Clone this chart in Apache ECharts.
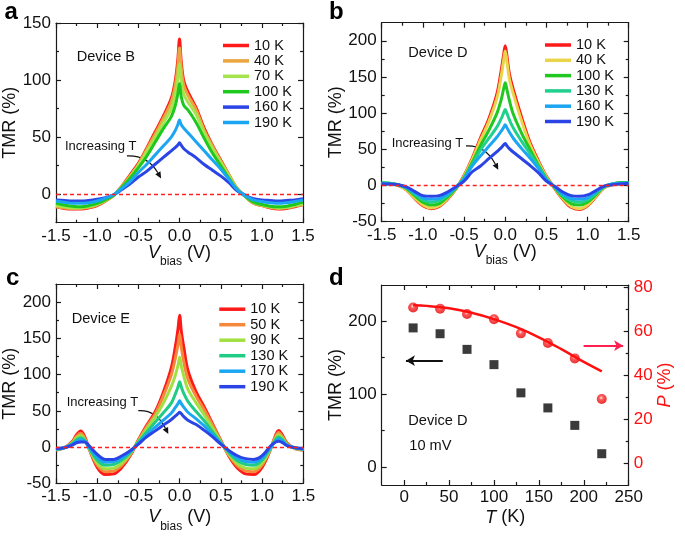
<!DOCTYPE html>
<html><head><meta charset="utf-8">
<script src="https://cdn.jsdelivr.net/npm/echarts@6/dist/echarts.min.js"></script>
<style>html,body{margin:0;padding:0;background:#fff}#c{width:685px;height:537px}</style>
</head><body><div id="c"></div>
<script>
// ---------- DATA ----------
const X_AB = [-1.5,-1.4,-1.3,-1.2,-1.1,-1.0,-0.9,-0.8,-0.7,-0.6,-0.5,-0.4,-0.3,-0.2,-0.1,-0.05,-0.02,0,0.02,0.05,0.1,0.2,0.3,0.4,0.5,0.6,0.7,0.8,0.9,1.0,1.1,1.2,1.3,1.4,1.5];
const X_C = [-1.5,-1.4,-1.3,-1.25,-1.2,-1.15,-1.1,-1.0,-0.9,-0.8,-0.7,-0.6,-0.5,-0.4,-0.3,-0.2,-0.1,-0.05,-0.02,0,0.02,0.05,0.1,0.2,0.3,0.4,0.5,0.6,0.7,0.8,0.9,1.0,1.1,1.15,1.2,1.25,1.3,1.4,1.5];

// Panel a: Device B
const A_NAMES = ['10 K','40 K','70 K','100 K','160 K','190 K'];
const A_10  = [-11,-12.5,-13,-13,-12,-10,-6,-1,7,17,27,40,54,68,84,100,118,136,117,100,90,76,58,43,30,17,5,-2,-8,-10,-12,-13,-12.5,-11,-9];
const A_40  = [-11,-12,-12.5,-12.5,-11.5,-9.5,-6,-1,7,16,26,39,52,66,81,96,112,128,111,96,87,74,56,42,29,17,5,-2,-8,-10,-11.5,-12.5,-12,-10.5,-9];
const A_70  = [-10,-11,-12,-12,-11,-9,-5.5,-1,6,15,25,37,49,62,75,88,102,114,100,88,81,70,54,40,28,16,5,-2,-7.5,-9.5,-11,-12,-11.5,-10,-8.5];
const A_100 = [-8,-9.5,-10.5,-11,-10,-8,-5,-1,6,14,23,33,45,57,68,78,88,97,86,78,74,63,49,36,25,14,4,-2,-7,-9,-10.5,-11,-10.5,-9,-7];
const A_160 = [-5,-5.5,-6,-6,-5.5,-4.5,-3,-0.5,4,9,15,20,26,32,38,41,43,45,43,40,37,32,26,21,16,10,3,-1,-4,-5,-5.5,-6,-5.5,-5,-4];
const A_190 = [-6,-7,-8,-8,-7.5,-6,-3.5,-0.5,5,11,19,26,34,42,50,56,61,65,61,58,54,46,38,30,22,13,4,-1.5,-5,-6.5,-7.5,-8,-7.5,-6.5,-5];

// Panel b: Device D
const B_NAMES = ['10 K','40 K','100 K','130 K','160 K','190 K'];
const B_10  = [3,2,0,-6,-18,-28,-32,-29,-19,-5,14,38,66,92,127,158,180,193,180,155,132,94,60,35,13,-4,-19,-30,-33,-28,-16,-3,1,3,4];
const B_40  = [3,2,0,-6,-17,-27,-31,-28,-18,-5,13,36,63,88,121,150,172,186,172,148,126,89,57,33,12,-4,-18,-29,-32,-27,-15,-3,1,3,4];
const B_100 = [4,3,1,-4,-14,-23,-27,-25,-16,-4,11,32,55,76,100,118,133,142,133,118,98,72,50,29,10,-3,-16,-25,-27,-23,-13,-2,2,4,4];
const B_130 = [4,3,1,-3,-12,-20,-23,-21,-14,-3,10,29,49,65,81,92,100,105,100,91,79,61,44,27,9,-2,-14,-21,-23,-20,-11,-2,2,3,4];
const B_160 = [3,2,1,-3,-10,-17,-19,-18,-12,-3,9,27,41,54,67,75,80,84,80,74,65,51,38,24,8,-2,-12,-18,-19,-17,-9,-1,2,3,3];
const B_190 = [2,2,1,-2,-8,-14,-15,-14,-9,-2,6,19,27,37,47,52,56,58,55,51,46,37,28,18,6,-1,-9,-14,-15,-13,-7,-1,1,2,3];

// Panel c: Device E
const C_NAMES = ['10 K','50 K','90 K','130 K','170 K','190 K'];
const C_10  = [-4,-1,8,17,22,14,-2,-28,-38,-37,-28,-12,10,30,48,75,110,140,163,182,160,138,106,76,55,32,9,-13,-29,-37,-38,-28,-4,12,23,16,6,-2,-4];
const C_50  = [-4,-1,7,15,19,12,-2,-25,-34,-33,-25,-11,9,28,45,70,100,124,142,156,138,118,94,70,51,30,8,-12,-26,-33,-34,-25,-3,11,20,14,5,-2,-4];
const C_90  = [-3,-1,6,13,16,10,-2,-22,-30,-29,-22,-9,8,25,41,60,84,100,113,124,112,98,80,61,44,26,7,-10,-23,-29,-30,-22,-3,9,17,12,4,-2,-3];
const C_130 = [-3,-1,5,10,13,9,-1,-18,-25,-24,-18,-8,7,21,34,47,61,74,83,90,83,74,63,49,36,21,6,-8,-19,-24,-25,-18,-2,8,14,10,3,-1,-3];
const C_170 = [-3,-1,4,8,10,8,0,-14,-21,-20,-15,-6,5,17,27,37,47,55,60,64,60,55,48,39,29,17,5,-6,-15,-20,-21,-15,-1,6,11,8,3,-1,-3];
const C_190 = [-2,-1,3,6,7,7,2,-10,-17,-17,-12,-5,4,14,22,30,38,43,46,48,46,42,37,31,23,14,4,-5,-12,-16,-17,-12,1,6,8,6,2,-1,-2];

// Panel d: Device D, 10 mV
const D_T   = [10,40,70,100,130,160,190,220];
const D_TMR = [191,183,161.5,140.5,101.7,81,57,18];
const D_P   = [70.8,70.2,67.8,65.4,59,54.6,47.6,29.1];
const FIT_T = [10,25,50,75,100,125,150,175,200,220];
const FIT_P = [71.8,71.5,70.4,68.4,65.5,61.8,57.2,51.8,46,41.7];

// Tick values
const V_MAJOR = [-1.5,-1,-0.5,0,0.5,1,1.5];
const V_MINOR = [-1.25,-0.75,-0.25,0.25,0.75,1.25];
const A_Y_MAJOR = [0,50,100,150];
const A_Y_MINOR = [25,75,125];
const BC_Y_MAJOR = [-50,0,50,100,150,200];
const BC_Y_MINOR = [-25,25,75,125,175];
const D_X_MAJOR = [0,50,100,150,200,250];
const D_X_MINOR = [25,75,125,175,225];
const D_L_MAJOR = [0,100,200];
const D_L_MINOR = [50,150];
const D_R_MAJOR = [0,20,40,60,80];
const D_R_MINOR = [10,30,50,70];

// ---------- CHART ----------
const FONT = '"Liberation Sans", Arial, sans-serif';
const AX = '#1a1a1a';
const TXT = '#111';
const chart = echarts.init(document.getElementById('c'));
const xAxis = [], yAxis = [];

function addAxis(list, g, pos, min, max, major, minor, label, nameOpt) {
  const common = {gridIndex: g, type: 'value', position: pos, min: min, max: max,
    splitLine: {show: false}, axisPointer: {show: false}, nameMoveOverlap: false};
  list.push(Object.assign({}, common, {
    axisLine: {show: true, onZero: false, lineStyle: {color: AX, width: 1.2}},
    axisTick: {show: true, inside: true, length: 5, customValues: major, lineStyle: {color: AX, width: 1.2}},
    axisLabel: label ? Object.assign({show: true, customValues: major, fontFamily: FONT, fontSize: 17, color: TXT, margin: 5}, label) : {show: false}
  }, nameOpt || {}));
  list.push(Object.assign({}, common, {
    axisLine: {show: false, onZero: false},
    axisTick: {show: true, inside: true, length: 3, customValues: minor, lineStyle: {color: AX, width: 1.2}},
    axisLabel: {show: false}
  }));
}
const fmt1 = v => v.toFixed(1);
function vName(gap) {
  return {
    name: '{i|V}{s|bias} (V)', nameLocation: 'middle', nameGap: gap,
    nameTextStyle: {fontFamily: FONT, fontSize: 18, color: TXT, lineHeight: 30,
      rich: {i: {fontFamily: FONT, fontSize: 18, fontStyle: 'italic', lineHeight: 30, color: TXT},
             s: {fontFamily: FONT, fontSize: 12, lineHeight: 12, verticalAlign: 'bottom', color: TXT}}}
  };
}
const tmrName = {name: 'TMR (%)', nameLocation: 'middle', nameRotate: 90, nameGap: 37,
  nameTextStyle: {fontFamily: FONT, fontSize: 18, color: TXT}};

const panels = [
  {y: [-25, 150], ymaj: A_Y_MAJOR, ymin: A_Y_MINOR, gap: 15},
  {y: [-50, 225], ymaj: BC_Y_MAJOR, ymin: BC_Y_MINOR, gap: 15},
  {y: [-50, 225], ymaj: BC_Y_MAJOR, ymin: BC_Y_MINOR, gap: 19}
];
panels.forEach((p, g) => {
  addAxis(xAxis, g, 'bottom', -1.5, 1.5, V_MAJOR, V_MINOR, {formatter: fmt1}, vName(p.gap));
  addAxis(xAxis, g, 'top', -1.5, 1.5, V_MAJOR, V_MINOR, null);
  addAxis(yAxis, g, 'left', p.y[0], p.y[1], p.ymaj, p.ymin, {}, tmrName);
  addAxis(yAxis, g, 'right', p.y[0], p.y[1], p.ymaj, p.ymin, null);
});
addAxis(xAxis, 3, 'bottom', -25, 250, D_X_MAJOR, D_X_MINOR, {margin: 4},
  {name: '{i|T} (K)', nameLocation: 'middle', nameGap: 23.5,
   nameTextStyle: {fontFamily: FONT, fontSize: 18, color: TXT, lineHeight: 18,
     rich: {i: {fontFamily: FONT, fontSize: 18, fontStyle: 'italic', color: TXT, lineHeight: 18}}}});
addAxis(xAxis, 3, 'top', -25, 250, D_X_MAJOR, D_X_MINOR, null);
addAxis(yAxis, 3, 'left', -25, 250, D_L_MAJOR, D_L_MINOR, {}, tmrName);
addAxis(yAxis, 3, 'right', -10, 81, D_R_MAJOR, D_R_MINOR, {color: '#ff1010'},
  {name: '{i|P} (%)', nameLocation: 'middle', nameRotate: 90, nameGap: 27,
   nameTextStyle: {fontFamily: FONT, fontSize: 18, color: '#ff1010',
     rich: {i: {fontFamily: FONT, fontSize: 18, fontStyle: 'italic', color: '#ff1010'}}}});

const A_COLORS = ['#ff1a1a','#eaa53e','#a6e34c','#1ec81e','#2b44e6','#1aa6f2'];
const B_COLORS = ['#ff1a1a','#e9d44a','#22c822','#20d08e','#1aa6f2','#2b44e6'];
const C_COLORS = ['#ff1a1a','#f5883a','#a2e042','#20cc84','#1aa6f2','#2b44e6'];

const series = [];
const zeroLine = {silent: true, animation: false, symbol: ['none', 'none'], label: {show: false},
  data: [{yAxis: 0, lineStyle: {color: '#ff2020', type: [4, 3], width: 1.4}}]};
function addCurves(g, prefix, names, colors, xs, ysList) {
  ysList.forEach((ys, i) => {
    const s = {type: 'line', name: prefix + names[i], xAxisIndex: 4 * g, yAxisIndex: 4 * g,
      data: xs.map((x, k) => [x, ys[k]]), showSymbol: false, smooth: 0.35,
      lineStyle: {color: colors[i], width: 3}, itemStyle: {color: colors[i]}, animation: false, silent: true};
    if (i === 0) s.markLine = zeroLine;
    series.push(s);
  });
}
addCurves(0, 'a:', A_NAMES, A_COLORS, X_AB, [A_10, A_40, A_70, A_100, A_160, A_190]);
addCurves(1, 'b:', B_NAMES, B_COLORS, X_AB, [B_10, B_40, B_100, B_130, B_160, B_190]);
addCurves(2, 'c:', C_NAMES, C_COLORS, X_C, [C_10, C_50, C_90, C_130, C_170, C_190]);

series.push({type: 'scatter', name: 'TMR', xAxisIndex: 12, yAxisIndex: 12,
  data: D_T.map((t, i) => [t, D_TMR[i]]), symbol: 'rect', symbolSize: 9,
  itemStyle: {color: '#0a0a0a'}, animation: false, silent: true,
  markLine: {silent: true, animation: false, symbol: ['none', 'arrow'], symbolSize: [8, 9], label: {show: false},
    lineStyle: {color: '#111', width: 2, type: 'solid'},
    data: [[{coord: [43, 146]}, {coord: [2, 146]}]]}});
series.push({type: 'line', name: 'Pfit', xAxisIndex: 12, yAxisIndex: 14,
  data: FIT_T.map((t, i) => [t, FIT_P[i]]), showSymbol: false, smooth: 0.4,
  lineStyle: {color: '#ff1010', width: 2.5}, itemStyle: {color: '#ff1010'}, animation: false, silent: true});
series.push({type: 'scatter', name: 'P', xAxisIndex: 12, yAxisIndex: 14,
  data: D_T.map((t, i) => [t, D_P[i]]), symbol: 'circle', symbolSize: 10,
  itemStyle: {color: {type: 'radial', x: 0.45, y: 0.38, r: 0.6,
    colorStops: [{offset: 0, color: '#ffe0e0'}, {offset: 0.35, color: '#ff3030'}, {offset: 1, color: '#e00000'}]}},
  animation: false, silent: true,
  markLine: {silent: true, animation: false, symbol: ['none', 'arrow'], symbolSize: [8, 9], label: {show: false},
    lineStyle: {color: '#ff2050', width: 2, type: 'solid'},
    data: [[{coord: [199.8, 53.4]}, {coord: [243.8, 53.4]}]]}});

function legendFor(prefix, names, left, top, lh, gap) {
  return {data: names.map(n => prefix + n), orient: 'vertical', left: left, top: top, padding: 0,
    itemWidth: 26, itemHeight: 3.5, itemGap: gap, icon: 'rect', selectedMode: false,
    formatter: n => n.split(':')[1],
    textStyle: {fontFamily: FONT, fontSize: 14.5, color: TXT, lineHeight: lh}};
}

function txt(x, y, text, opts) {
  return {type: 'text', x: x, y: y, silent: true,
    style: Object.assign({text: text, fontFamily: FONT, fontSize: 14.6, fill: TXT, verticalAlign: 'middle', align: 'left'}, opts || {})};
}
const bold = {fontSize: 24, fontWeight: 'bold', fill: '#000'};

chart.setOption({
  animation: false,
  backgroundColor: '#fff',
  grid: [
    {left: 55.7, top: 23, width: 247.3, height: 199.7},
    {left: 381.7, top: 22.7, width: 247, height: 199},
    {left: 56, top: 284, width: 247.3, height: 199.3},
    {left: 381.7, top: 285, width: 247, height: 200}
  ],
  xAxis: xAxis,
  yAxis: yAxis,
  legend: [
    legendFor('a:', A_NAMES, 223, 38, 14, 0.4),
    legendFor('b:', B_NAMES, 545, 37.5, 15, 0.3),
    legendFor('c:', C_NAMES, 219.3, 301.7, 14, 0.5)
  ],
  series: series
});

// curved "Increasing T" arrows, placed in data coordinates of each panel
function curvedArrow(seriesIndex, from, to) {
  const p1 = chart.convertToPixel({seriesIndex: seriesIndex}, from);
  const p2 = chart.convertToPixel({seriesIndex: seriesIndex}, to);
  const cp = [p1[0] + 0.6 * (p2[0] - p1[0]), p1[1] - 1];
  let dx = p2[0] - cp[0], dy = p2[1] - cp[1];
  const len = Math.sqrt(dx * dx + dy * dy); dx /= len; dy /= len;
  const hl = 6.5, hw = 3;
  const bx = p2[0] - dx * hl, by = p2[1] - dy * hl;
  return [
    {type: 'bezierCurve', silent: true, shape: {x1: p1[0], y1: p1[1], x2: bx, y2: by, cpx1: cp[0], cpy1: cp[1]},
     style: {stroke: '#111', lineWidth: 1.2, fill: null}},
    {type: 'polygon', silent: true, shape: {points: [[p2[0], p2[1]], [bx - dy * hw, by + dx * hw], [bx + dy * hw, by - dx * hw]]},
     style: {fill: '#111'}}
  ];
}
const graphics = [
  txt(4.5, 12.6, 'a', bold), txt(329, 12.6, 'b', bold), txt(6, 278.3, 'c', bold), txt(329, 278.3, 'd', bold),
  txt(76.7, 56.7, 'Device B'), txt(408.3, 53.3, 'Device D'), txt(71.7, 319, 'Device E'),
  txt(408.3, 420.7, 'Device D'), txt(409.3, 446.3, '10 mV'),
  txt(65, 146.7, 'Increasing T', {fontSize: 13}),
  txt(391.7, 143.3, 'Increasing T', {fontSize: 13}),
  txt(66.7, 402.5, 'Increasing T', {fontSize: 13})
].concat(
  curvedArrow(0, [-0.639, 33.5], [-0.223, 13.8]),
  curvedArrow(6, [-0.476, 54.8], [-0.084, 21.7]),
  curvedArrow(12, [-0.502, 50.2], [-0.138, 17.9])
);
chart.setOption({graphic: graphics});
</script></body></html>
